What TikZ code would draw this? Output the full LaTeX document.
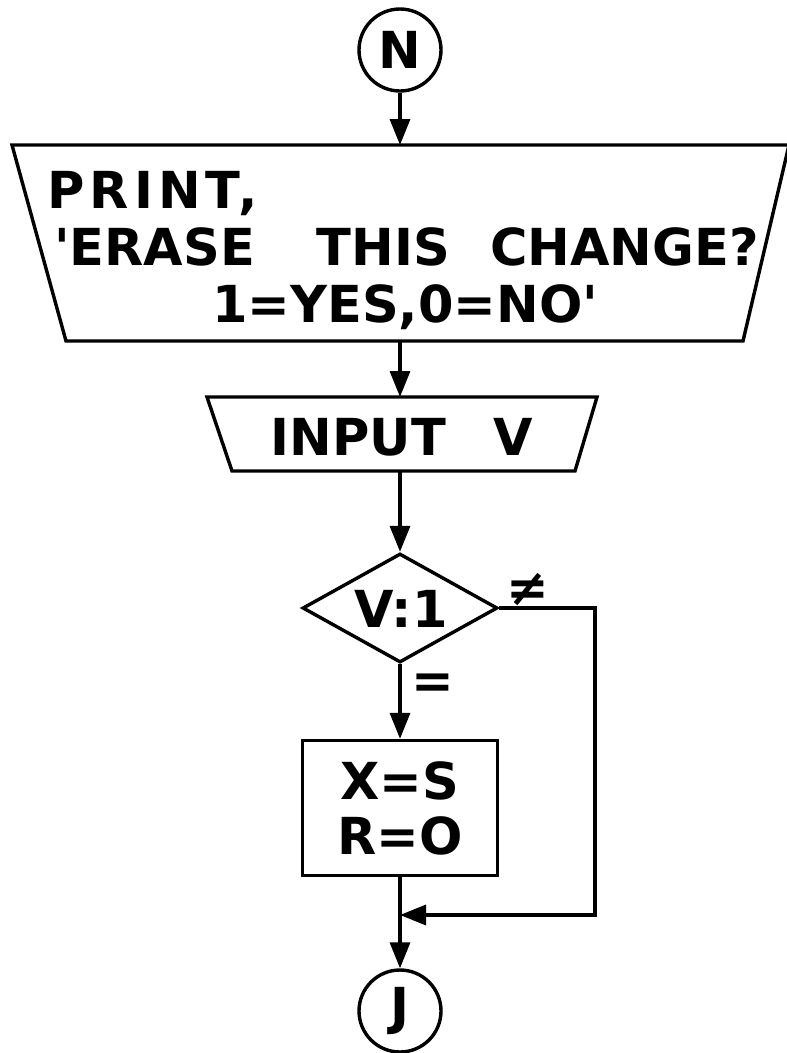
\documentclass[tikz,border=0pt]{standalone}
\usepackage{fontspec}
\newfontfamily\lett{DejaVu Sans}
\usetikzlibrary{shapes.geometric,arrows.meta}
\tikzset{
  x=1pt, y=-1pt,
  ln/.style={line width=3.4pt},
  flow/.style={ln, -{Triangle[length=26pt,width=20pt]}},
  txt/.style={font=\lett\bfseries\fontsize{51pt}{55pt}\selectfont, inner sep=0pt},
  lett/.style={txt, anchor=base},
  conn/.style={txt, draw, ln, circle, minimum size=82pt},
  procbox/.style={txt, draw, ln, rectangle, minimum width=195pt, minimum height=135pt, align=center},
  decision/.style={draw, ln, diamond, minimum width=195pt, minimum height=109pt, inner sep=0pt},
}
\begin{document}
\begin{tikzpicture}
\useasboundingbox (0,0) rectangle (787,1053);

% entry connector
\node[conn] (N) at (400,50) {N};

% output: message to the user
\draw[ln] (12,145) -- (789,145) -- (743,341) -- (66,341) -- cycle;
\coordinate (printTop) at (400,145);
\coordinate (printBot) at (400,341);
\node[lett, anchor=base west] (p1) at (47,208) {\addfontfeature{LetterSpace=10}PRINT,};
\node[lett, anchor=base west] (p2) at (54,265) {'ERASE\hspace{62pt}THIS\hspace{40pt}CHANGE?};
\node[lett] (p3) at (405,322) {1=YES,0=NO'};

% input of the answer
\draw[ln] (207,397) -- (597,397) -- (575,471) -- (232,471) -- cycle;
\coordinate (inTop) at (400,397);
\coordinate (inBot) at (400,471);
\node[lett] (inp) at (402,455) {INPUT\hspace{48pt}V};

% test of the answer
\node[decision] (dec) at (400,608) {};
\node[lett] (vlab) at (401,627) {V:1};
\node[lett] (ne) at (528,605) {≠};
\node[lett] (eq) at (433,698) {=};

% reset
\node[procbox] (box) at (400,808) {X=S\\R=O};

% exit connector
\node[conn] (J) at (400,1011) {J};

\coordinate (turn) at (595,608);
\coordinate (merge) at (400,915);

\draw[flow] (N) -- (printTop);
\draw[flow] (printBot) -- (inTop);
\draw[flow] (inBot) -- (dec.north);
\draw[flow] (dec.south) -- (box.north);
\draw[flow] (box.south) -- (J.north);
\draw[flow] (dec.east) -- (turn) |- (merge);
\end{tikzpicture}
\end{document}
